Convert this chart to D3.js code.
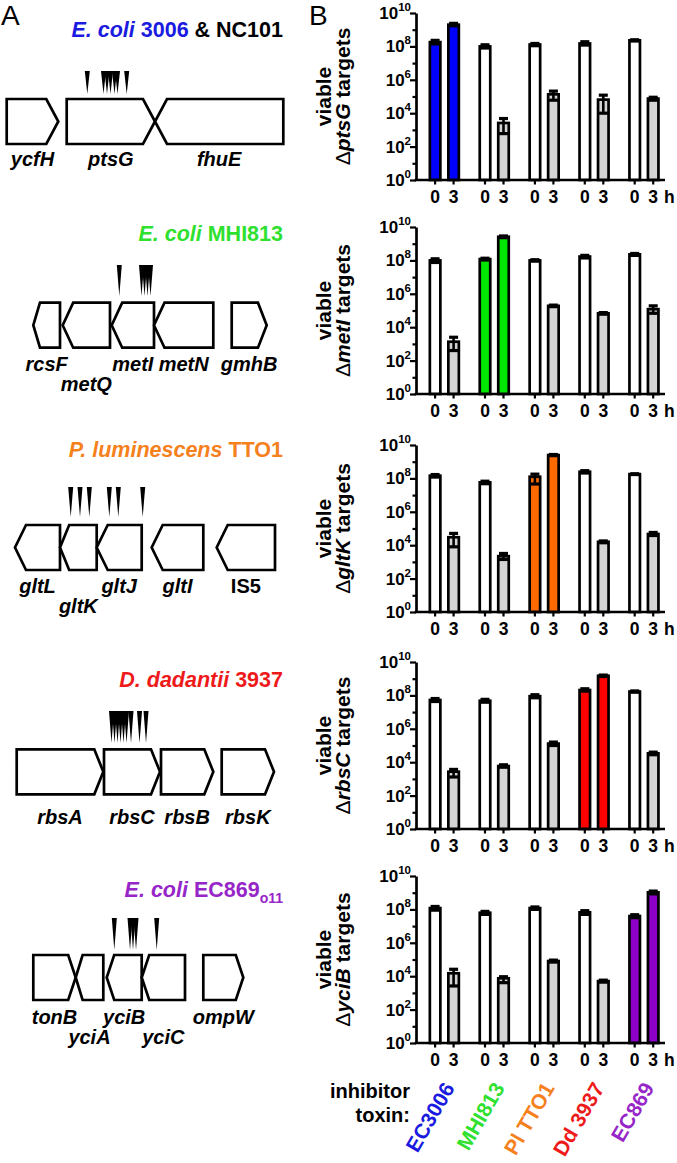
<!DOCTYPE html>
<html><head><meta charset="utf-8">
<script src="https://cdn.jsdelivr.net/npm/d3@7"></script>
<style>
body{margin:0;background:#fff}
svg{display:block}
text{font-family:"Liberation Sans",Arial,Helvetica,sans-serif}
</style>
</head><body>
<svg id="fig" width="677" height="1163"></svg>
<script>
// ---------------- DATA ----------------
const inhibitors = ["EC3006", "MHI813", "Pl TTO1", "Dd 3937", "EC869"];
const timepoints = ["0", "3"];
const targetGenes = ["ptsG", "metI", "gltK", "rbsC", "yciB"];
const barColors = ["#0000ff", "#00e600", "#ff6a00", "#ff0000", "#8c00c8"];
const labelColors = ["#1a1ae0", "#2fe02f", "#f5801c", "#ee1a1a", "#9626c8"];
const yTickExponents = [0, 2, 4, 6, 8, 10];
const yMinorExponents = [1, 3, 5, 7, 9];

// viable targets (CFU) at 0 h and 3 h, one entry per inhibitor toxin
const ptsG_0h = [1.8e8, 1.0e8, 1.3e8, 1.5e8, 2.3e8];
const ptsG_0h_lo = [1.4e8, 0.8e8, 1.1e8, 1.2e8, 2.1e8];
const ptsG_0h_hi = [2.3e8, 1.25e8, 1.5e8, 1.9e8, 2.5e8];
const ptsG_3h = [2.0e9, 2.6e3, 1.35e5, 6.5e4, 7.5e4];
const ptsG_3h_lo = [1.7e9, 6e2, 6e4, 1e4, 6e4];
const ptsG_3h_hi = [2.4e9, 4.8e3, 2.1e5, 1.2e5, 9e4];

const metI_0h = [1.0e8, 1.2e8, 1.0e8, 1.7e8, 2.3e8];
const metI_0h_lo = [0.75e8, 1.05e8, 0.9e8, 1.4e8, 2.0e8];
const metI_0h_hi = [1.25e8, 1.35e8, 1.1e8, 2.0e8, 2.6e8];
const metI_3h = [1.35e3, 2.6e9, 1.9e5, 6.8e4, 1.2e5];
const metI_3h_lo = [4e2, 2.3e9, 1.7e5, 6e4, 6.8e4];
const metI_3h_hi = [2.5e3, 2.9e9, 2.1e5, 7.5e4, 1.9e5];

const gltK_0h = [1.45e8, 5.8e7, 1.26e8, 2.5e8, 1.8e8];
const gltK_0h_lo = [1.2e8, 4.8e7, 4.6e7, 2.1e8, 1.7e8];
const gltK_0h_hi = [1.7e8, 6.8e7, 1.8e8, 2.9e8, 1.9e8];
const gltK_3h = [3.0e4, 2.2e3, 2.5e9, 1.6e4, 4.7e4];
const gltK_3h_lo = [8e3, 1.4e3, 2.3e9, 1.4e4, 3.8e4];
const gltK_3h_hi = [5.1e4, 3.2e3, 2.7e9, 1.8e4, 5.8e4];

const rbsC_0h = [5.3e7, 4.8e7, 9.0e7, 2.1e8, 1.7e8];
const rbsC_0h_lo = [4.3e7, 3.9e7, 7.2e7, 1.8e8, 1.55e8];
const rbsC_0h_hi = [6.5e7, 5.8e7, 1.1e8, 2.5e8, 1.85e8];
const rbsC_3h = [2.7e3, 5.9e3, 1.3e5, 1.5e9, 3.4e4];
const rbsC_3h_lo = [1.3e3, 5.0e3, 1.0e5, 1.35e9, 2.8e4];
const rbsC_3h_hi = [3.7e3, 7.0e3, 1.6e5, 1.65e9, 4.0e4];

const yciB_0h = [1.2e8, 6.3e7, 1.2e8, 6.7e7, 4.0e7];
const yciB_0h_lo = [0.9e8, 5.0e7, 1.0e8, 5.0e7, 3.2e7];
const yciB_0h_hi = [1.5e8, 7.6e7, 1.4e8, 8.4e7, 4.8e7];
const yciB_3h = [1.5e4, 7.5e3, 8.1e4, 5.1e3, 1.05e9];
const yciB_3h_lo = [2.6e3, 4.1e3, 7.0e4, 4.4e3, 0.85e9];
const yciB_3h_hi = [2.6e4, 9.3e3, 9.2e4, 5.8e3, 1.25e9];

// gene maps (locus coordinates) and transposon insertion sites
const locus1Genes = [
  {name: "ycfH", start: 6.7, end: 58.3, strand: "+", row: 0},
  {name: "ptsG", start: 66.7, end: 155, strand: "+", row: 0},
  {name: "fhuE", start: 155, end: 283.3, strand: "-", row: 0}
];
const locus1Insertions = [87.3, 103.5, 107, 110.5, 114.5, 117.5, 126.7];

const locus2Genes = [
  {name: "rcsF", start: 33.3, end: 60, strand: "-", row: 0},
  {name: "metQ", start: 62.7, end: 110, strand: "-", row: 1},
  {name: "metI", start: 111.7, end: 154, strand: "-", row: 0},
  {name: "metN", start: 154, end: 213.3, strand: "-", row: 0},
  {name: "gmhB", start: 231.7, end: 266.7, strand: "+", row: 0}
];
const locus2Insertions = [119.3, 141.5, 144.5, 147.5, 150.5];

const locus3Genes = [
  {name: "gltL", start: 15, end: 60, strand: "-", row: 0},
  {name: "gltK", start: 60, end: 96.7, strand: "-", row: 1},
  {name: "gltJ", start: 96.7, end: 141.7, strand: "-", row: 0},
  {name: "gltI", start: 151.7, end: 203.3, strand: "-", row: 0},
  {name: "IS5", start: 216.7, end: 275, strand: "-", row: 0, plain: true}
];
const locus3Insertions = [70.7, 80, 89.3, 109.3, 118.3, 142.7];

const locus4Genes = [
  {name: "rbsA", start: 16.7, end: 103.3, strand: "+", row: 0},
  {name: "rbsC", start: 104, end: 160, strand: "+", row: 0},
  {name: "rbsB", start: 161, end: 213.3, strand: "+", row: 0},
  {name: "rbsK", start: 221.7, end: 274, strand: "+", row: 0}
];
const locus4Insertions = [111.5, 114.5, 117.5, 120.5, 123.5, 126.5, 131, 139.5, 146];

const locus5Genes = [
  {name: "tonB", start: 33.3, end: 75.7, strand: "+", row: 0},
  {name: "yciA", start: 75.7, end: 103.3, strand: "-", row: 1},
  {name: "yciB", start: 106.7, end: 141.7, strand: "-", row: 0},
  {name: "yciC", start: 141.7, end: 185, strand: "-", row: 1},
  {name: "ompW", start: 203.3, end: 243.3, strand: "+", row: 0}
];
const locus5Insertions = [114.3, 130, 133, 136, 156.7];

// ---------------- BUILD ----------------
const svg = d3.select("#fig");

const panels = [
  {gene: targetGenes[0], t0: ptsG_0h, t0lo: ptsG_0h_lo, t0hi: ptsG_0h_hi, t3: ptsG_3h, t3lo: ptsG_3h_lo, t3hi: ptsG_3h_hi},
  {gene: targetGenes[1], t0: metI_0h, t0lo: metI_0h_lo, t0hi: metI_0h_hi, t3: metI_3h, t3lo: metI_3h_lo, t3hi: metI_3h_hi},
  {gene: targetGenes[2], t0: gltK_0h, t0lo: gltK_0h_lo, t0hi: gltK_0h_hi, t3: gltK_3h, t3lo: gltK_3h_lo, t3hi: gltK_3h_hi},
  {gene: targetGenes[3], t0: rbsC_0h, t0lo: rbsC_0h_lo, t0hi: rbsC_0h_hi, t3: rbsC_3h, t3lo: rbsC_3h_lo, t3hi: rbsC_3h_hi},
  {gene: targetGenes[4], t0: yciB_0h, t0lo: yciB_0h_lo, t0hi: yciB_0h_hi, t3: yciB_3h, t3lo: yciB_3h_lo, t3hi: yciB_3h_hi}
];

const baselines = [180, 394, 612, 829, 1043];
const plotH = 167;
const axisX = 416, axisEnd = 665;

const xGroup = d3.scaleBand().domain(inhibitors).range([419.4, 668.9]).paddingInner(0);
const xTime = d3.scalePoint().domain(timepoints).range([15.7, 34.2]);
const barW = 10.5;

// panel letters
svg.append("text").attr("x", 1).attr("y", 25).attr("font-size", 28).text("A");
svg.append("text").attr("x", 309).attr("y", 25).attr("font-size", 28).text("B");

panels.forEach((p, pi) => {
  const b = baselines[pi];
  const y = d3.scaleLog().domain([1, 1e10]).range([b, b - plotH]);
  const g = svg.append("g");

  const rows = [];
  inhibitors.forEach((inh, gi) => {
    timepoints.forEach((t, ti) => {
      const v = ti === 0 ? p.t0[gi] : p.t3[gi];
      const lo = ti === 0 ? p.t0lo[gi] : p.t3lo[gi];
      const hi = ti === 0 ? p.t0hi[gi] : p.t3hi[gi];
      const fill = gi === pi ? barColors[gi] : (ti === 0 ? "#ffffff" : "#d4d4d4");
      rows.push({inh, t, v, lo, hi, fill, cx: xGroup(inh) + xTime(t)});
    });
  });

  g.selectAll("rect.bar").data(rows).join("rect")
    .attr("class", "bar")
    .attr("x", d => d.cx - barW / 2)
    .attr("width", barW)
    .attr("y", d => y(d.v))
    .attr("height", d => b - y(d.v))
    .attr("fill", d => d.fill)
    .attr("stroke", "#000").attr("stroke-width", 2.7);

  const eb = g.selectAll("g.err").data(rows).join("g").attr("class", "err")
    .attr("stroke", "#000").attr("stroke-width", 2.6);
  eb.append("line").attr("x1", d => d.cx).attr("x2", d => d.cx)
    .attr("y1", d => y(d.lo)).attr("y2", d => y(d.hi));
  eb.append("line").attr("x1", d => d.cx - 4.5).attr("x2", d => d.cx + 4.5)
    .attr("y1", d => y(d.hi)).attr("y2", d => y(d.hi)).attr("stroke-width", 3.2);
  eb.append("line").attr("x1", d => d.cx - 4.5).attr("x2", d => d.cx + 4.5)
    .attr("y1", d => y(d.lo)).attr("y2", d => y(d.lo)).attr("stroke-width", 3.2);

  const yAxis = d3.axisLeft(y).tickValues(yTickExponents.map(e => Math.pow(10, e)))
    .tickSize(6).tickSizeOuter(0).tickFormat("");
  const ya = g.append("g").attr("transform", `translate(${axisX},0)`).call(yAxis);
  ya.select(".domain").attr("stroke-width", 2.7);
  ya.selectAll(".tick line").attr("stroke-width", 2.2);
  const yMinor = d3.axisLeft(y).tickValues(yMinorExponents.map(e => Math.pow(10, e)))
    .tickSize(3.5).tickSizeOuter(0).tickFormat("");
  const ym = g.append("g").attr("transform", `translate(${axisX},0)`).call(yMinor);
  ym.select(".domain").remove();
  ym.selectAll(".tick line").attr("stroke-width", 2.2);

  yTickExponents.forEach(e => {
    const t = g.append("text").attr("x", axisX - 5).attr("y", y(Math.pow(10, e)) + 6)
      .attr("text-anchor", "end").attr("font-weight", "bold").attr("font-size", 17);
    t.append("tspan").text("10");
    t.append("tspan").attr("dy", -8).attr("font-size", 11.5).text(e);
  });

  g.append("line").attr("x1", axisX - 1.3).attr("x2", axisEnd).attr("y1", b).attr("y2", b)
    .attr("stroke", "#000").attr("stroke-width", 2.7);
  g.selectAll("line.xt").data(rows).join("line").attr("class", "xt")
    .attr("x1", d => d.cx).attr("x2", d => d.cx).attr("y1", b).attr("y2", b + 4.5)
    .attr("stroke", "#000").attr("stroke-width", 2.2);
  g.selectAll("text.xl").data(rows).join("text").attr("class", "xl")
    .attr("x", d => d.cx).attr("y", b + 23).attr("text-anchor", "middle")
    .attr("font-weight", "bold").attr("font-size", 17.5).text(d => d.t);
  g.append("text").attr("x", 664).attr("y", b + 23).attr("font-weight", "bold")
    .attr("font-size", 17.5).text("h");

  const cy = b - plotH / 2;
  const tg = g.append("g").attr("font-weight", "bold").attr("font-size", 21)
    .attr("text-anchor", "middle");
  tg.append("text").attr("transform", `translate(331,${cy}) rotate(-90)`).text("viable");
  const t2 = tg.append("text").attr("transform", `translate(350,${cy}) rotate(-90)`);
  t2.append("tspan").attr("font-weight", "normal").text("\u0394");
  t2.append("tspan").attr("font-style", "italic").text(p.gene);
  t2.append("tspan").text(" targets");
});

// bottom inhibitor labels
const bl = svg.append("g").attr("font-weight", "bold").attr("font-size", 20).attr("text-anchor", "end");
bl.append("text").attr("x", 410).attr("y", 1098).text("inhibitor");
bl.append("text").attr("x", 410).attr("y", 1122).text("toxin:");
inhibitors.forEach((inh, gi) => {
  const x = xGroup(inh) + xGroup.bandwidth() / 2 + 11;
  svg.append("text").attr("transform", `translate(${x},1088) rotate(-60)`)
    .attr("text-anchor", "end").attr("font-weight", "bold").attr("font-size", 21)
    .attr("fill", labelColors[gi]).text(inh);
});

// ---------------- GENE MAPS (panel A) ----------------
const loci = [
  {genes: locus1Genes, ins: locus1Insertions, top: 99, insTop: 71, insBot: 94, lab: 166, tip: 12, titleY: 37,
   title: [{t: "E. coli", i: true, c: 0}, {t: " 3006", c: 0}, {t: " & NC101", c: -1}]},
  {genes: locus2Genes, ins: locus2Insertions, top: 302.7, insTop: 265, insBot: 296, lab: 371, tip: 10.5, titleY: 241,
   title: [{t: "E. coli", i: true, c: 1}, {t: " MHI813", c: 1}]},
  {genes: locus3Genes, ins: locus3Insertions, top: 525, insTop: 487, insBot: 517, lab: 593, tip: 11, titleY: 457,
   title: [{t: "P. luminescens", i: true, c: 2}, {t: " TTO1", c: 2}]},
  {genes: locus4Genes, ins: locus4Insertions, top: 749.3, insTop: 711, insBot: 743, lab: 824, tip: 9, titleY: 687,
   title: [{t: "D. dadantii", i: true, c: 3}, {t: " 3937", c: 3}]},
  {genes: locus5Genes, ins: locus5Insertions, top: 955, insTop: 918, insBot: 950, lab: 1024, tip: 7.5, titleY: 897,
   title: [{t: "E. coli", i: true, c: 4}, {t: " EC869", c: 4}, {t: "o11", c: 4, sub: true}]}
];
const xLocus = d3.scaleLinear().domain([0, 300]).range([0, 300]);
const geneH = 45;

loci.forEach(L => {
  const g = svg.append("g");
  const tt = g.append("text").attr("x", 283).attr("y", L.titleY).attr("text-anchor", "end")
    .attr("font-weight", "bold").attr("font-size", 21.5);
  L.title.forEach(s => {
    const ts = tt.append("tspan").text(s.t).attr("fill", s.c < 0 ? "#000" : labelColors[s.c]);
    if (s.i) ts.attr("font-style", "italic");
    if (s.sub) ts.attr("font-size", 14).attr("dy", 6);
  });
  L.genes.forEach(gn => {
    const x0 = xLocus(gn.start), x1 = xLocus(gn.end);
    const tip = Math.min(L.tip, (x1 - x0) * 0.25);
    const yt = L.top, yb = L.top + geneH, ym = L.top + geneH / 2;
    let pts;
    if (gn.strand === "+") pts = [[x0, yt], [x1 - tip, yt], [x1, ym], [x1 - tip, yb], [x0, yb]];
    else pts = [[x0 + tip, yt], [x1, yt], [x1, yb], [x0 + tip, yb], [x0, ym]];
    g.append("path").attr("d", d3.line()(pts) + "Z").attr("fill", "#fff")
      .attr("stroke", "#000").attr("stroke-width", 2.7).attr("stroke-linejoin", "miter");
    g.append("text").attr("x", (x0 + x1) / 2).attr("y", L.lab + gn.row * 20)
      .attr("text-anchor", "middle").attr("font-weight", "bold").attr("font-size", 20)
      .attr("font-style", gn.plain ? "normal" : "italic").text(gn.name);
  });
  L.ins.forEach(pos => {
    const x = xLocus(pos);
    g.append("path").attr("d", d3.line()([[x - 2.5, L.insTop], [x + 2.5, L.insTop], [x, L.insBot]]) + "Z")
      .attr("fill", "#000");
  });
});
</script>
</body></html>
